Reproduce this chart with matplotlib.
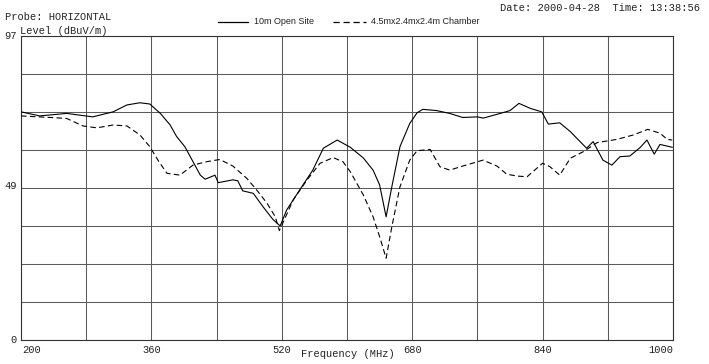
import matplotlib
matplotlib.use("Agg")
import matplotlib.pyplot as plt
from matplotlib.lines import Line2D

# 10m Open Site (solid)
open_freq = [200, 223, 256, 288, 313, 330, 346, 358, 371, 383, 391, 401, 410, 420, 426, 438, 442,
             460, 466, 472, 485, 497, 509, 518, 526, 542, 558, 571, 588, 604, 620, 632, 640, 648,
             655, 665, 677, 686, 693, 710, 726, 742, 760, 767, 784, 800, 811, 825, 839, 847, 861,
             874, 886, 894, 902, 914, 925, 935, 947, 960, 968, 977, 984, 999]
open_level = [72.8, 71.5, 72.3, 71.2, 72.8, 75.0, 75.7, 75.3, 72.3, 68.6, 64.9, 61.7, 57.4, 52.6,
              51.3, 52.6, 50.2, 51.1, 50.8, 47.6, 46.8, 42.5, 38.5, 36.4, 41.5, 47.9, 54.2, 61.2,
              63.8, 61.5, 58.1, 54.2, 49.5, 39.3, 48.9, 61.7, 69.1, 72.5, 73.6, 73.2, 72.3, 71.0,
              71.2, 70.8, 72.0, 73.2, 75.5, 73.9, 72.8, 68.9, 69.3, 66.5, 63.3, 61.2, 63.3, 57.4,
              55.8, 58.5, 58.7, 61.5, 63.8, 59.3, 62.4, 61.5]

# 4.5m x 2.4m x 2.4m Chamber (dashed)
ch_freq = [200, 236, 256, 276, 293, 313, 330, 346, 358, 368, 379, 395, 411, 428, 444, 460, 477,
           490, 502, 512, 517, 521, 534, 551, 567, 583, 595, 604, 620, 632, 640, 648, 655, 665,
           677, 686, 702, 714, 726, 742, 767, 784, 796, 809, 821, 840, 849, 861, 874, 890, 907,
           931, 951, 969, 984, 993, 999]
ch_level = [71.5, 71.0, 70.7, 68.3, 67.7, 68.6, 68.3, 65.4, 61.7, 57.4, 53.2, 52.6, 55.8, 56.9,
            57.6, 55.5, 51.6, 47.6, 43.6, 39.3, 34.9, 37.2, 44.7, 51.1, 56.4, 58.2, 56.9, 53.7,
            46.3, 39.3, 33.0, 26.1, 36.1, 48.9, 57.4, 60.4, 60.8, 55.3, 54.2, 55.5, 57.4, 55.5,
            52.9, 52.3, 52.1, 56.4, 55.3, 52.6, 58.0, 60.1, 63.0, 64.0, 65.4, 67.2, 66.0, 64.0,
            63.8]

x_ticks = [200, 360, 520, 680, 840, 1000]
x_tick_labels = ["200", "360", "520", "680", "840", "1000"]
y_ticks = [0, 49, 97]
y_tick_labels = ["0", "49", "97"]

mono = ["Liberation Mono", "DejaVu Sans Mono"]
sans = ["Liberation Sans", "DejaVu Sans"]

fig = plt.figure(figsize=(7.09, 3.64), dpi=100)
ax = fig.add_axes([21/709, 1-340/364, 652/709, 304/364])
ax.set_xlim(200, 1000)
ax.set_ylim(0, 97)

# grid: 10 vertical, 8 horizontal divisions
for i in range(11):
    ax.axvline(200 + i*80, color="#5a5a5a", lw=0.75, zorder=1)
for j in range(9):
    ax.axhline(j*97/8, color="#5a5a5a", lw=0.75, zorder=1)

ax.plot(open_freq, open_level, color="black", lw=0.8, zorder=3)
ax.plot(ch_freq, ch_level, color="black", lw=0.8, ls=(0, (5, 3)), zorder=3)

for s in ax.spines.values():
    s.set_color("#333333")
    s.set_linewidth(0.8)

ax.set_xticks([])
ax.set_yticks([])
for v, lab in zip(x_ticks, x_tick_labels):
    ha = "left" if v == 200 else ("right" if v == 1000 else "center")
    xx = v + 2 if v == 200 else v
    ax.text(xx, -1.5, lab, ha=ha, va="top", fontsize=7.5, family=mono, color="#222222")
for v, lab in zip(y_ticks, y_tick_labels):
    ax.text(195, v, lab, ha="right", va="center", fontsize=7.5, family=mono, color="#222222")

fig.text(348/709, 1-354/364, "Frequency (MHz)", ha="center", va="center", fontsize=7.5,
         family=mono, color="#222222")
fig.text(5/709, 1-17/364, "Probe: HORIZONTAL", ha="left", va="center", fontsize=7.5,
         family=mono, color="#222222")
fig.text(20/709, 1-31/364, "Level (dBuV/m)", ha="left", va="center", fontsize=7.5,
         family=mono, color="#222222")
fig.text(700/709, 1-8/364, "Date: 2000-04-28  Time: 13:38:56", ha="right", va="center",
         fontsize=7.5, family=mono, color="#222222")

# legend drawn in figure coordinates
fig.add_artist(Line2D([218/709, 248/709], [1-22/364, 1-22/364], color="black", lw=0.9))
fig.text(254/709, 1-22/364, "10m Open Site", ha="left", va="center", fontsize=6.5,
         family=sans, color="#222222")
fig.add_artist(Line2D([333/709, 366/709], [1-22/364, 1-22/364], color="black", lw=0.9,
                      ls=(0, (5, 3))))
fig.text(371/709, 1-22/364, "4.5mx2.4mx2.4m Chamber", ha="left", va="center", fontsize=6.5,
         family=sans, color="#222222")

fig.savefig("out.png", dpi=100)
